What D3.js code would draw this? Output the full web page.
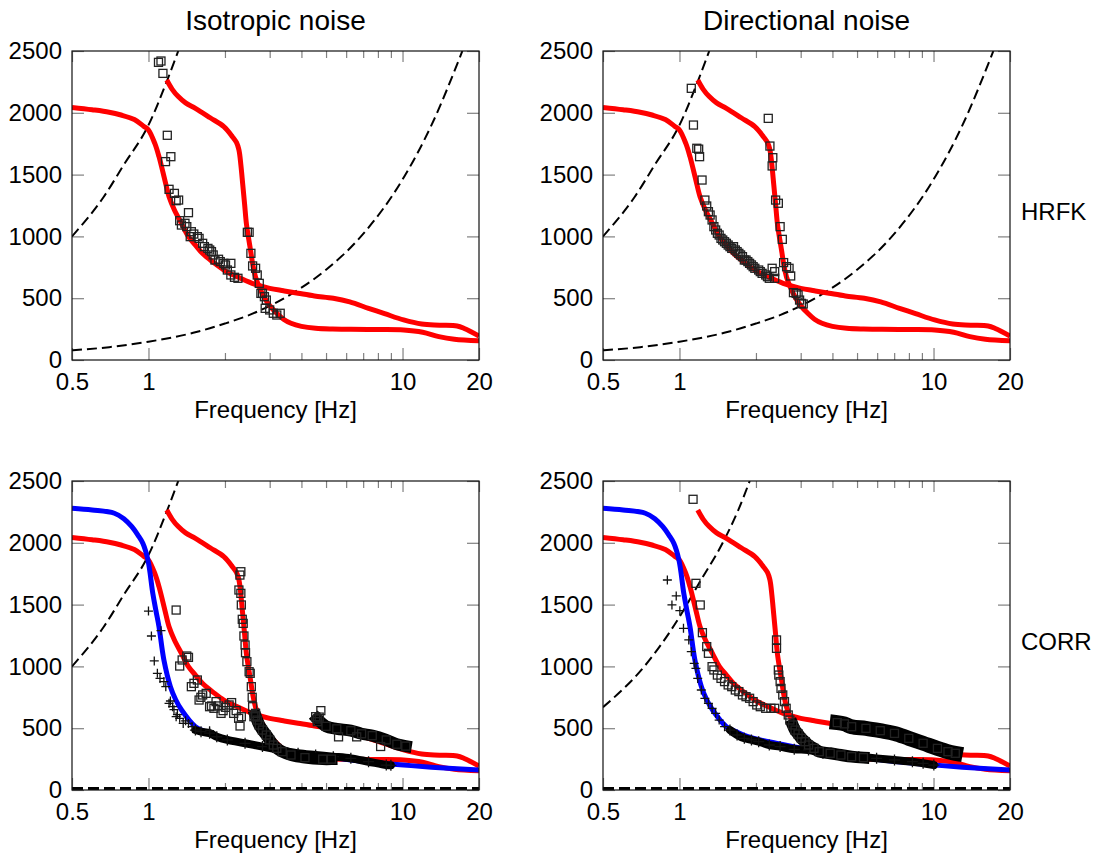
<!DOCTYPE html>
<html><head><meta charset="utf-8">
<script src="https://cdn.jsdelivr.net/npm/d3@7"></script>
<style>body{margin:0;background:#fff} svg text{font-family:Arial,"Liberation Sans",sans-serif;fill:#000}</style>
</head><body><svg id="chart" width="1098" height="859"></svg>
<script>
// ---------- tick labels / text ----------
const freqTicks = [0.5, 1, 10, 20];
const freqMinor = [2, 3, 4, 5, 6, 7, 8, 9];
const velTicks = [0, 500, 1000, 1500, 2000, 2500];
const colTitles = ["Isotropic noise", "Directional noise"];
const rowLabels = ["HRFK", "CORR"];
const xLabel = "Frequency [Hz]";

// ---------- theoretical dispersion curves ----------
const fundMode = [[0.5,2044],[0.6,2025],[0.7,2005],[0.78,1982],[0.88,1945],[0.96,1890],[1.0,1861],[1.06,1750],[1.1,1645],[1.16,1456],[1.205,1321],[1.265,1214],[1.348,1106],[1.437,998],[1.53,930],[1.63,863],[1.8,790],[1.98,728],[2.2,680],[2.56,620],[3.0,580],[3.4,560],[3.88,540],[4.5,518],[5.34,499],[6.2,470],[7.35,418],[8.5,375],[10.1,324],[11.9,291],[14,282],[16.4,275],[17.5,255],[20,194]];
const higherMode = [[1.18,2265],[1.24,2190],[1.31,2131],[1.4,2080],[1.53,2036],[1.75,1960],[1.98,1888],[2.14,1807],[2.22,1760],[2.27,1700],[2.31,1580],[2.35,1420],[2.39,1260],[2.43,1100],[2.48,980],[2.53,870],[2.58,760],[2.64,670],[2.73,590],[2.85,510],[3.0,440],[3.2,378],[3.4,330],[3.64,297],[4.0,272],[4.55,256],[5.3,250],[6.26,248],[8,246],[10.1,243],[12,225],[13.9,189],[16,168],[20,156]];
const vertMode = [[0.5,2279],[0.6,2265],[0.734,2239],[0.8,2195],[0.86,2130],[0.91,2060],[0.95,1996],[0.995,1861],[1.04,1591],[1.07,1450],[1.1,1321],[1.15,1052],[1.22,836],[1.28,730],[1.35,647],[1.53,512],[1.7,465],[1.86,431],[2.4,378],[3.3,324],[4.5,280],[6.26,243],[8,220],[10.1,202],[13,185],[20,162]];

// ---------- array resolution limits (dashed) ----------
const limitHigh = [[0.5,1000],[0.667,1321],[0.8,1580],[1.0,1900],[1.186,2265],[1.31,2500]];
const limitHighDir = [[0.5,670],[0.726,998],[1.0,1400],[1.2,1680],[1.48,2000],[1.7,2260],[1.89,2500]];
const limitLow = [[0.5,78],[0.7,104],[1,148],[1.5,220],[2,295],[2.5,365],[3,438],[4,585],[5,730],[7,1020],[10,1460],[13,1900],[17.2,2500]];
const limitZero = [[0.5,12],[20,12]];

// ---------- picks: HRFK isotropic ----------
const sqHrfkIso = [[1.095,2408],[1.12,2419],[1.14,2319],[1.186,1818],[1.167,1605],[1.225,1645],[1.205,1381],[1.265,1348],[1.285,1289],[1.314,1294],[1.437,1192],[1.327,1127],[1.348,1092],[1.392,1106],[1.415,1079],[1.475,1038],[1.508,1019],[1.46,998],[1.557,998],[1.582,984],[1.634,944],[1.66,917],[1.714,903],[1.742,890],[1.77,877],[1.798,850],[1.827,809],[1.887,815],[1.917,796],[1.98,782],[2.01,769],[2.11,782],[2.044,728],[2.11,688],[2.18,669],[2.25,661],[2.45,1033],[2.49,1033],[2.53,863],[2.57,761],[2.64,742],[2.68,688],[2.73,620],[2.77,539],[2.81,539],[2.86,512],[2.91,485],[2.88,418],[3.0,405],[3.1,378],[3.2,364],[3.3,378]];

// ---------- picks: HRFK directional ----------
const sqHrfkDir = [[1.113,2198],[1.135,1901],[1.17,1713],[1.19,1706],[1.2,1645],[1.227,1456],[1.259,1294],[1.28,1246],[1.3,1200],[1.32,1173],[1.344,1133],[1.366,1079],[1.388,1052],[1.41,1025],[1.433,1011],[1.457,984],[1.48,971],[1.505,957],[1.53,944],[1.555,930],[1.58,917],[1.606,903],[1.632,917],[1.659,890],[1.686,877],[1.713,863],[1.74,850],[1.77,836],[1.8,809],[1.828,809],[1.858,796],[1.888,782],[1.92,769],[1.95,755],[1.98,742],[2.05,728],[2.08,715],[2.115,701],[2.185,688],[2.22,674],[2.257,661],[2.316,742],[2.37,715],[2.37,661],[2.236,1955],[2.27,1731],[2.33,1637],[2.316,1570],[2.39,1294],[2.45,1268],[2.49,1079],[2.54,976],[2.57,788],[2.64,755],[2.7,742],[2.74,680],[2.81,545],[2.88,539],[2.93,526],[2.97,485],[3.02,458],[3.07,453]];

// ---------- picks: CORR isotropic ----------
const sqCorrIso = [[1.285,1456],[1.327,1003],[1.357,1052],[1.415,1084],[1.437,1073],[1.475,836],[1.51,863],[1.557,890],[1.582,728],[1.608,750],[1.634,769],[1.687,782],[1.74,674],[1.77,680],[1.81,661],[1.845,715],[1.887,680],[1.93,620],[1.967,642],[2.01,669],[2.077,688],[2.124,707],[2.165,620],[2.214,642],[2.264,580],[2.293,518],[2.32,593],
  [2.31,1766],[2.29,1739],[2.27,1618],[2.31,1591],[2.32,1497],[2.34,1381],[2.36,1348],[2.375,1246],[2.4,1173],[2.41,1111],[2.44,1038],[2.49,957],[2.515,944],[2.54,836],[2.56,750],[2.57,674],[2.6,593],[2.64,620],[2.68,566],
  [4.55,593],[4.62,553],[4.77,642],[4.7,590],[5.6,430],[6.6,430],[8.2,352]];
const bandSqCorrIsoLow = [[2.64,600],[2.73,526],[2.81,485],[2.91,445],[3.0,405],[3.1,364],[3.2,337],[3.36,310],[3.64,283],[4.13,262],[4.85,250],[5.25,250]];
const bandSqCorrIsoHigh = [[4.62,575],[5.0,515],[5.51,495],[6.26,480],[6.9,455],[7.6,440],[8.63,405],[9.5,370],[10.3,355]];
const crCorrIso = [[1.0,1448],[1.027,1246],[1.12,1289],[1.054,1044],[1.084,944],[1.11,903],[1.15,877],[1.17,836],[1.205,701],[1.245,674],[1.285,593],[1.327,580],[1.37,539],[1.437,539],[1.484,512],[1.22,720],[1.26,650],[1.3,610],[1.4,560],[1.74,480]];
const bandCrCorrIso = [[1.53,485],[1.61,472],[1.74,460],[1.857,431],[2.044,405],[2.4,378],[2.81,351],[3.3,324],[3.88,297],[4.55,283],[5.34,270],[6.26,256],[7.35,229],[8.63,202],[9.0,200]];

// ---------- picks: CORR directional ----------
const sqCorrDir = [[1.131,2352],[1.161,1672],[1.207,1497],[1.231,1273],[1.28,1160],[1.3,1106],[1.344,998],[1.366,971],[1.41,930],[1.457,903],[1.505,877],[1.555,850],[1.606,836],[1.659,809],[1.713,796],[1.77,769],[1.828,755],[1.888,742],[1.95,715],[2.015,688],[2.08,674],[2.185,661],[2.29,661],[2.37,661],
  [2.41,1214],[2.41,1146],[2.45,971],[2.46,930],[2.49,877],[2.51,822],[2.55,769],[2.59,715],[2.63,661],[2.68,607],[2.72,566]];
const bandSqCorrDirLow = [[2.79,526],[2.85,485],[2.93,453],[3.02,418],[3.12,391],[3.22,364],[3.385,337],[3.55,310],[3.92,297],[4.32,283],[4.76,270],[5.3,262]];
const bandSqCorrDirHigh = [[4.18,545],[4.46,535],[4.76,512],[5.42,499],[6.17,480],[7.02,458],[7.99,418],[9.1,378],[10.36,337],[11.4,310],[12.18,297]];
const crCorrDir = [[0.896,1699],[0.971,1570],[0.934,1497],[1.0035,1451],[1.037,1308],[1.088,1214],[1.113,1119],[1.143,1025],[1.161,984],[1.18,903],[1.219,809],[1.259,742],[1.3,701],[1.344,661],[1.388,620],[1.433,566],[1.505,512]];
const bandCrCorrDir = [[1.58,485],[1.686,445],[1.8,418],[1.92,405],[2.05,391],[2.257,364],[2.49,351],[2.83,329],[3.22,324],[3.67,297],[4.32,283],[5.08,270],[5.97,256],[7.02,243],[8.26,229],[9.1,216],[10.03,202]];

// ---------- panel table built from the arrays ----------
const panels = [
  {col:0,row:0, dashed:[limitHigh, limitLow], blue:false, squares:sqHrfkIso, crosses:[], sqBands:[], crBands:[]},
  {col:1,row:0, dashed:[limitHigh, limitLow], blue:false, squares:sqHrfkDir, crosses:[], sqBands:[], crBands:[]},
  {col:0,row:1, dashed:[limitHigh], zero:true, blue:true, squares:sqCorrIso, crosses:crCorrIso, sqBands:[[bandSqCorrIsoLow,12],[bandSqCorrIsoHigh,12]], crBands:[bandCrCorrIso]},
  {col:1,row:1, dashed:[limitHighDir], zero:true, blue:true, squares:sqCorrDir, crosses:crCorrDir, sqBands:[[bandSqCorrDirLow,12],[bandSqCorrDirHigh,15]], crBands:[bandCrCorrDir]}
];

const svg = d3.select("#chart");
const W = 407, H = 309;
const colX = [72, 603], rowY = [51, 481];
const FS = 24;

panels.forEach((p, i) => {
  const x = d3.scaleLog().domain([0.5, 20]).range([0, W]);
  const y = d3.scaleLinear().domain([0, 2500]).range([H, 0]);
  const g = svg.append("g").attr("transform", `translate(${colX[p.col]},${rowY[p.row]})`);
  const cid = "clip" + i;
  g.append("clipPath").attr("id", cid).append("rect").attr("width", W).attr("height", H);

  const tickStyle = sel => { sel.select(".domain").remove(); sel.selectAll(".tick line").attr("stroke", "#808080").attr("stroke-width", 1.2); };
  g.append("g").attr("transform", `translate(0,${H})`)
    .call(d3.axisBottom(x).tickValues(freqTicks).tickSize(-12).tickPadding(10).tickFormat(d3.format("")))
    .call(tickStyle).call(s => s.selectAll("text").attr("font-size", FS).attr("font-family", "Arial, Liberation Sans").attr("dy", "0.85em"));
  g.append("g").attr("transform", `translate(0,${H})`)
    .call(d3.axisBottom(x).tickValues(freqMinor).tickSize(-7).tickFormat("")).call(tickStyle);
  g.append("g").call(d3.axisTop(x).tickValues(freqTicks).tickSize(-11).tickFormat("")).call(tickStyle);
  g.append("g").call(d3.axisTop(x).tickValues(freqMinor).tickSize(-7).tickFormat("")).call(tickStyle);
  g.append("g")
    .call(d3.axisLeft(y).tickValues(velTicks).tickSize(-12).tickPadding(10).tickFormat(d3.format("d")))
    .call(tickStyle).call(s => s.selectAll("text").attr("font-size", FS).attr("font-family", "Arial, Liberation Sans"));
  g.append("g").attr("transform", `translate(${W},0)`)
    .call(d3.axisRight(y).tickValues(velTicks).tickSize(-12).tickFormat("")).call(tickStyle);

  const plot = g.append("g").attr("clip-path", `url(#${cid})`);
  const line = d3.line().x(d => x(d[0])).y(d => y(d[1])).curve(d3.curveMonotoneX);
  const lineC = d3.line().x(d => x(d[0])).y(d => y(d[1])).curve(d3.curveCatmullRom.alpha(0.5));

  p.dashed.forEach(arr => plot.append("path").datum(arr).attr("d", line)
    .attr("fill", "none").attr("stroke", "#000").attr("stroke-width", 2).attr("stroke-dasharray", "10,5"));
  if (p.zero) plot.append("path").datum(limitZero).attr("d", line)
    .attr("fill", "none").attr("stroke", "#000").attr("stroke-width", 3).attr("stroke-dasharray", "11,5");

  plot.append("path").datum(fundMode).attr("d", lineC).attr("fill", "none").attr("stroke", "#ff0000").attr("stroke-width", 5);
  plot.append("path").datum(higherMode).attr("d", lineC).attr("fill", "none").attr("stroke", "#ff0000").attr("stroke-width", 5);
  if (p.blue) plot.append("path").datum(vertMode).attr("d", lineC).attr("fill", "none").attr("stroke", "#0000ff").attr("stroke-width", 5);

  p.crBands.forEach(arr => {
    plot.append("path").datum(arr).attr("d", lineC).attr("fill", "none").attr("stroke", "#000").attr("stroke-width", 8).attr("stroke-linecap", "round");
  });
  const drawCross = (arr, s) => plot.append("g").selectAll("path").data(arr).join("path")
    .attr("transform", d => `translate(${x(d[0])},${y(d[1])})`)
    .attr("d", `M${-s},0H${s}M0,${-s}V${s}`)
    .attr("stroke", "#111").attr("stroke-width", 1.3).attr("fill", "none");
  drawCross(p.crosses, 4.5);
  p.crBands.forEach(arr => drawCross(arr, 5.5));

  p.sqBands.forEach(([arr, w]) => {
    plot.append("path").datum(arr).attr("d", lineC).attr("fill", "none").attr("stroke", "#000").attr("stroke-width", w).attr("stroke-linecap", "square");
  });
  const drawSq = (arr) => plot.append("g").selectAll("rect").data(arr).join("rect")
    .attr("x", d => x(d[0]) - 4).attr("y", d => y(d[1]) - 4).attr("width", 8).attr("height", 8)
    .attr("fill", "none").attr("stroke", "#222").attr("stroke-width", 1.3);
  drawSq(p.squares);
  p.sqBands.forEach(([arr]) => drawSq(arr));

  g.append("rect").attr("width", W).attr("height", H).attr("fill", "none").attr("stroke", "#111").attr("stroke-width", 1.2);

  g.append("text").attr("x", W / 2).attr("y", H + 58).attr("text-anchor", "middle").attr("font-size", FS).text(xLabel);
  if (p.row === 0) g.append("text").attr("x", W / 2).attr("y", -21).attr("text-anchor", "middle").attr("font-size", 28).text(colTitles[p.col]);
  if (p.col === 1) g.append("text").attr("x", W + 11).attr("y", H / 2 + 14).attr("font-size", FS).text(rowLabels[p.row]);
});
</script></body></html>
